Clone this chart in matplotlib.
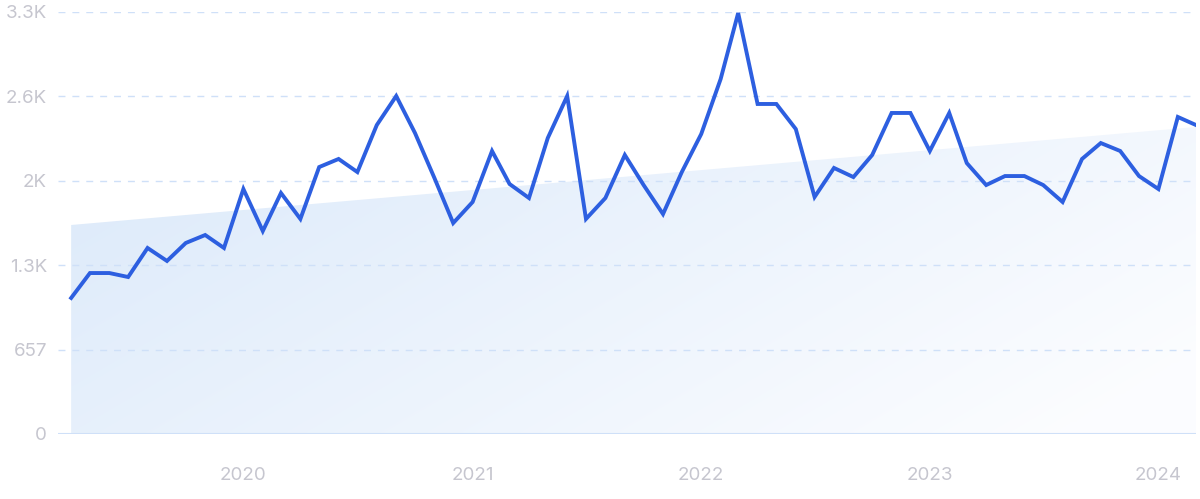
import numpy as np
import pandas as pd
import matplotlib
matplotlib.use("Agg")
import matplotlib.pyplot as plt
import matplotlib.dates as mdates
from matplotlib.patches import Polygon

plt.rcParams['font.family'] = ['Inter', 'DejaVu Sans']

# monthly values, Apr 2019 .. Mar 2024
months = pd.date_range("2019-04-01", periods=60, freq="MS")
values = [1059, 1253, 1253, 1222, 1448, 1347, 1487, 1549, 1448, 1907,
          1580, 1876, 1674, 2078, 2141, 2039, 2405, 2631, 2343, 1993,
          1642, 1806, 2203, 1946, 1837, 2304, 2631, 1674, 1837, 2172,
          1938, 1712, 2039, 2335, 2763, 3277, 2569, 2569, 2374, 1845,
          2071, 2000, 2172, 2499, 2499, 2203, 2499, 2109, 1938, 2008,
          2008, 1938, 1806, 2141, 2265, 2203, 2008, 1907, 2468, 2405]
trend_start, trend_end = 1627, 2390

ytick_vals = [0, 657, 1314, 1971, 2628, 3285]
ytick_labels = ["0", "657", "1.3K", "2K", "2.6K", "3.3K"]
xtick_years = [2020, 2021, 2022, 2023, 2024]

fig = plt.figure(figsize=(12, 4.99), dpi=100)
ax = fig.add_axes([58/1200, 65/499, (1196-58)/1200, (434-12)/499])

x = mdates.date2num(months)
ax.set_xlim(x[0] - 21, x[-1])
ax.set_ylim(0, 3285)

# gradient-filled trend area
poly = Polygon([(x[0], 0), (x[0], trend_start), (x[-1], trend_end), (x[-1], 0)],
               closed=True, facecolor='none', edgecolor='none')
ax.add_patch(poly)
gx, gy = np.meshgrid(np.linspace(0, 1, 300), np.linspace(0, 1, 120))
t = np.clip(0.75 * gx + 0.35 * (1 - gy), 0, 1)
c0 = np.array([0.86, 0.915, 0.98])
c1 = np.array([0.985, 0.99, 1.0])
img = c0[None, None, :] * (1 - t[..., None]) + c1[None, None, :] * t[..., None]
im = ax.imshow(img, extent=[x[0], x[-1], 0, trend_end], origin='lower',
               aspect='auto', zorder=1, interpolation='bicubic')
im.set_clip_path(poly)

for v in ytick_vals[1:]:
    ax.axhline(v, color='#cfe0f8', lw=1, ls=(0, (5, 5)), zorder=2)
ax.axhline(0, color='#cfe0f8', lw=1.5, zorder=2)

ax.plot(x, values, color='#2d5fe0', lw=2.8, solid_joinstyle='miter', zorder=3)

for s in ax.spines.values():
    s.set_visible(False)
ax.set_yticks(ytick_vals)
ax.set_yticklabels(ytick_labels)
ax.set_xticks([mdates.date2num(pd.Timestamp(f"{y}-01-01")) for y in xtick_years])
ax.set_xticklabels([str(y) for y in xtick_years])
ax.tick_params(axis='both', length=0, colors='#c6c6cf', labelsize=13.5)
ax.tick_params(axis='x', pad=24)
ax.tick_params(axis='y', pad=8)

fig.savefig("out.png", dpi=100, facecolor='white')
